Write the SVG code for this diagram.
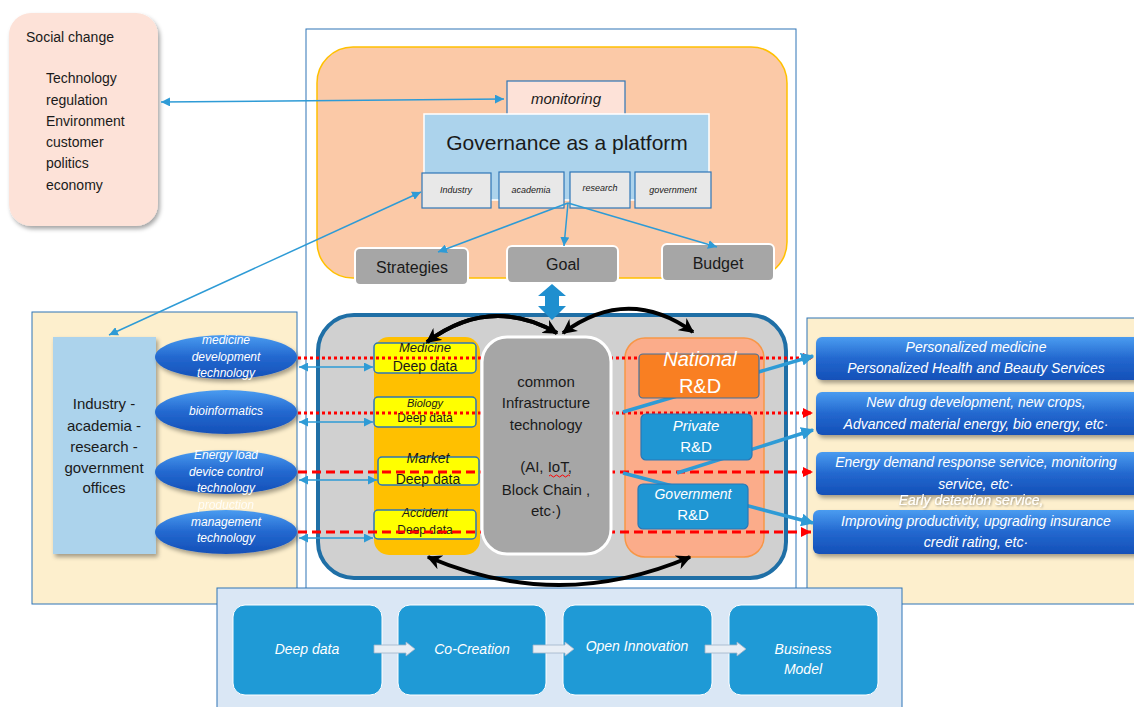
<svg xmlns="http://www.w3.org/2000/svg" width="1134" height="707" viewBox="0 0 1134 707">
<defs>
<style>
text{font-family:"Liberation Sans",Arial,sans-serif;dominant-baseline:central;text-anchor:middle}
.blk{fill:#1a1a1a}
.wht{fill:#fff;font-style:italic}
.it{font-style:italic}
.thin{stroke:#2e9bd6;stroke-width:1.5;fill:none}
.thick{stroke:#2e9bd6;stroke-width:3.5;fill:none}
.rdot{stroke:#ff0000;stroke-width:3;stroke-dasharray:3 3;fill:none}
.rdash{stroke:#ff0000;stroke-width:3;stroke-dasharray:9 5;fill:none}
.curve{stroke:#000;stroke-width:4;fill:none}
.ddbox{fill:#ffff00;stroke:#2e75b6;stroke-width:1.5}
.gbox{fill:#e8e8e8;stroke:#2e75b6;stroke-width:1.2}
.grey{fill:#a6a6a6;stroke:#fff;stroke-width:2}
.bbox{fill:#1f9ad6;stroke:#fff;stroke-width:1}
</style>
<linearGradient id="gblue" x1="0" y1="0" x2="0" y2="1">
<stop offset="0" stop-color="#4a9cf0"/>
<stop offset="0.5" stop-color="#2368cf"/>
<stop offset="1" stop-color="#1450b8"/>
</linearGradient>
<filter id="sh" x="-10%" y="-10%" width="130%" height="130%">
<feDropShadow dx="2" dy="3" stdDeviation="2" flood-color="#000" flood-opacity="0.35"/>
</filter>
<filter id="tsh" x="-10%" y="-30%" width="120%" height="160%">
<feDropShadow dx="1" dy="1" stdDeviation="1" flood-color="#000" flood-opacity="0.4"/>
</filter>
<marker id="ab" viewBox="0 0 10 10" refX="10" refY="5" markerWidth="9" markerHeight="9" markerUnits="userSpaceOnUse" orient="auto-start-reverse">
<path d="M0 0 L10 5 L0 10 z" fill="#2e9bd6"/>
</marker>
<marker id="abt" viewBox="0 0 10 10" refX="9" refY="5" markerWidth="13" markerHeight="13" markerUnits="userSpaceOnUse" orient="auto">
<path d="M0 0 L10 5 L0 10 z" fill="#2e9bd6"/>
</marker>
<marker id="ar" viewBox="0 0 10 10" refX="10" refY="5" markerWidth="10" markerHeight="10" markerUnits="userSpaceOnUse" orient="auto">
<path d="M0 0 L10 5 L0 10 z" fill="#ff0000"/>
</marker>
<marker id="ak" viewBox="0 0 10 10" refX="9" refY="5" markerWidth="15" markerHeight="15" markerUnits="userSpaceOnUse" orient="auto-start-reverse">
<path d="M0 0 L10 5 L0 10 L3 5 z" fill="#000"/>
</marker>
</defs>

<rect width="1134" height="707" fill="#fff"/>

<!-- outer white frame -->
<rect x="306" y="29" width="490" height="562" fill="#fff" stroke="#2e75b6" stroke-width="1"/>

<!-- side panels -->
<rect id="left-panel" x="32" y="312" width="265" height="292" fill="#fdefcd" stroke="#2e75b6" stroke-width="1"/>
<rect id="right-panel" x="807" y="318" width="340" height="286" fill="#fdefcd" stroke="#2e75b6" stroke-width="1"/>

<!-- Social change -->
<g id="social-change">
<rect x="9" y="13" width="149" height="213" rx="22" fill="#fde2d8" filter="url(#sh)"/>
<text x="70" y="37" class="blk" font-size="14">Social change</text>
<g class="blk" font-size="14" style="text-anchor:start">
<text x="46" y="78" style="text-anchor:start">Technology</text>
<text x="46" y="100" style="text-anchor:start">regulation</text>
<text x="46" y="121" style="text-anchor:start">Environment</text>
<text x="46" y="142" style="text-anchor:start">customer</text>
<text x="46" y="163" style="text-anchor:start">politics</text>
<text x="46" y="185" style="text-anchor:start">economy</text>
</g>
</g>

<!-- governance panel -->
<g id="governance-panel">
<rect x="317" y="47" width="470" height="231" rx="36" fill="#fbc9a7" stroke="#ffc000" stroke-width="1.5"/>
</g>
<g id="monitoring">
<rect x="507" y="81" width="118" height="36" fill="#fde2d8" stroke="#2e75b6" stroke-width="1.2"/>
<text x="566" y="98" class="blk it" font-size="15">monitoring</text>
</g>
<g id="governance">
<rect x="424" y="114" width="285" height="86" fill="#acd3ec" stroke="#fff" stroke-width="1.5"/>
<text x="567" y="142" class="blk" font-size="21">Governance as a platform</text>
</g>
<g id="industry-small"><rect x="422" y="173" width="69" height="35" class="gbox"/><text x="456" y="190" class="blk it" font-size="9">Industry</text></g>
<g id="academia-small"><rect x="499" y="172" width="65" height="36" class="gbox"/><text x="531" y="190" class="blk it" font-size="9">academia</text></g>
<g id="research-small"><rect x="570" y="172" width="60" height="36" class="gbox"/><text x="600" y="188" class="blk it" font-size="9">research</text></g>
<g id="government-small"><rect x="635" y="172" width="76" height="36" class="gbox"/><text x="673" y="190" class="blk it" font-size="9">government</text></g>

<g id="strategies"><rect x="355" y="248" width="113" height="37" rx="5" class="grey"/><text x="412" y="267" class="blk" font-size="16">Strategies</text></g>
<g id="goal"><rect x="507" y="246" width="111" height="37" rx="5" class="grey"/><text x="563" y="264" class="blk" font-size="16">Goal</text></g>
<g id="budget"><rect x="662" y="244" width="112" height="37" rx="5" class="grey"/><text x="718" y="263" class="blk" font-size="16">Budget</text></g>

<!-- central panel -->
<g id="center-panel">
<rect x="318" y="315" width="468" height="263" rx="36" fill="#d0d0d0" stroke="#1f6fa6" stroke-width="4"/>
<rect x="374" y="337" width="106" height="218" rx="15" fill="#ffc000"/>
<rect x="625" y="338" width="139" height="219" rx="20" fill="#fbac8a" stroke="#f79646" stroke-width="1.5"/>
</g>

<g id="medicine-dd"><rect x="374" y="343" width="102" height="30" rx="4" class="ddbox"/><text x="425" y="347" class="blk it" font-size="13">Medicine</text><text x="425" y="366" class="blk" font-size="14">Deep data</text></g>
<g id="biology-dd"><rect x="374" y="397" width="102" height="30" rx="4" class="ddbox"/><text x="425" y="403" class="blk it" font-size="11">Biology</text><text x="425" y="418" class="blk" font-size="12">Deep data</text></g>
<g id="market-dd"><rect x="378" y="457" width="101" height="28" rx="4" class="ddbox"/><text x="428" y="458" class="blk it" font-size="14">Market</text><text x="428" y="479" class="blk" font-size="14">Deep data</text></g>
<g id="accident-dd"><rect x="374" y="510" width="102" height="29" rx="4" class="ddbox"/><text x="425" y="513" class="blk it" font-size="12">Accident</text><text x="425" y="530" class="blk" font-size="12">Deep data</text></g>

<!-- left side -->
<g id="iagr">
<rect x="53" y="337" width="103" height="217" fill="#acd3ec" filter="url(#sh)"/>
<g class="blk" font-size="15">
<text x="104" y="403">Industry -</text>
<text x="104" y="425">academia -</text>
<text x="104" y="446">research -</text>
<text x="104" y="467">government</text>
<text x="104" y="487">offices</text>
</g>
</g>
<g id="ell-medicine"><ellipse cx="226" cy="357" rx="71" ry="22" fill="url(#gblue)" filter="url(#sh)"/><text x="226" y="340" class="wht" font-size="12">medicine</text><text x="226" y="357" class="wht" font-size="12">development</text><text x="226" y="373" class="wht" font-size="12">technology</text></g>
<g id="ell-bio"><ellipse cx="226" cy="412" rx="71" ry="22" fill="url(#gblue)" filter="url(#sh)"/><text x="226" y="411" class="wht" font-size="12">bioinformatics</text></g>
<g id="ell-energy"><ellipse cx="226" cy="472" rx="71" ry="22" fill="url(#gblue)" filter="url(#sh)"/><text x="226" y="455" class="wht" font-size="12">Energy load</text><text x="226" y="472" class="wht" font-size="12">device control</text><text x="226" y="488" class="wht" font-size="12">technology</text></g>
<g id="ell-production"><ellipse cx="226" cy="532" rx="71" ry="22" fill="url(#gblue)" filter="url(#sh)"/><text x="226" y="505" class="wht" font-size="12" opacity="0.85">production</text><text x="226" y="522" class="wht" font-size="12">management</text><text x="226" y="538" class="wht" font-size="12">technology</text></g>

<!-- right boxes -->
<g id="out-1"><rect x="816" y="337" width="330" height="43" rx="6" fill="url(#gblue)" filter="url(#sh)"/><text x="976" y="347" class="wht" font-size="14">Personalized medicine</text><text x="976" y="368" class="wht" font-size="14">Personalized Health and Beauty Services</text></g>
<g id="out-2"><rect x="816" y="392" width="330" height="43" rx="6" fill="url(#gblue)" filter="url(#sh)"/><text x="976" y="402" class="wht" font-size="14">New drug development, new crops,</text><text x="976" y="424" class="wht" font-size="14">Advanced material energy, bio energy, etc·</text></g>
<g id="out-3"><rect x="816" y="452" width="330" height="43" rx="6" fill="url(#gblue)" filter="url(#sh)"/><text x="976" y="462" class="wht" font-size="14">Energy demand response service, monitoring</text><text x="976" y="484" class="wht" font-size="14">service, etc·</text></g>
<g id="out-4"><rect x="813" y="510" width="333" height="44" rx="6" fill="url(#gblue)" filter="url(#sh)"/><text x="971" y="500" class="wht" font-size="14" filter="url(#tsh)">Early detection service,</text><text x="976" y="521" class="wht" font-size="14">Improving productivity, upgrading insurance</text><text x="976" y="542" class="wht" font-size="14">credit rating, etc·</text></g>

<!-- connectors -->
<g id="connectors">
<line x1="161" y1="102" x2="504" y2="99" class="thin" marker-start="url(#ab)" marker-end="url(#ab)"/>
<line x1="109" y1="335" x2="421" y2="192" class="thin" marker-start="url(#ab)" marker-end="url(#ab)"/>
<line x1="568" y1="203" x2="438" y2="252" class="thin" marker-end="url(#ab)"/>
<line x1="568" y1="203" x2="564" y2="246" class="thin" marker-end="url(#ab)"/>
<line x1="568" y1="203" x2="717" y2="247" class="thin" marker-end="url(#ab)"/>
<polygon points="552,284 566,296 559,296 559,306 566,306 552,320 538,306 545,306 545,296 538,296" fill="#1f8fcf"/>
<path d="M557 333 Q490 295 427 342" class="curve" marker-end="url(#ak)"/>
<path d="M557 333 Q490 295 427 342" class="curve" marker-start="url(#ak)"/>
<path d="M563 333 Q628 285 693 332" class="curve" marker-start="url(#ak)" marker-end="url(#ak)"/>
<path d="M428 557 Q559 613 690 557" class="curve" marker-start="url(#ak)" marker-end="url(#ak)"/>
<line x1="299" y1="367" x2="373" y2="367" class="thin" marker-start="url(#ab)" marker-end="url(#ab)"/>
<line x1="299" y1="422" x2="373" y2="422" class="thin" marker-start="url(#ab)" marker-end="url(#ab)"/>
<line x1="299" y1="480" x2="377" y2="480" class="thin" marker-start="url(#ab)" marker-end="url(#ab)"/>
<line x1="299" y1="538" x2="373" y2="538" class="thin" marker-start="url(#ab)" marker-end="url(#ab)"/>
<line x1="298" y1="358" x2="813" y2="358" class="rdot" marker-end="url(#ar)"/>
<line x1="298" y1="413" x2="813" y2="413" class="rdot" marker-end="url(#ar)"/>
<line x1="298" y1="472" x2="813" y2="472" class="rdash" marker-end="url(#ar)"/>
<line x1="298" y1="532" x2="811" y2="532" class="rdash" marker-end="url(#ar)"/>
<line x1="623" y1="412" x2="813" y2="356" class="thick" marker-end="url(#abt)"/>
<line x1="677" y1="473" x2="813" y2="430" class="thick" marker-end="url(#abt)"/>
<line x1="623" y1="473" x2="813" y2="523" class="thick" marker-end="url(#abt)"/>
</g>

<!-- boxes drawn over lines -->
<g id="infra">
<rect x="482" y="337" width="129" height="217" rx="25" fill="#a6a6a6" stroke="#fff" stroke-width="3"/>
<g class="blk" font-size="15">
<text x="546" y="381">common</text>
<text x="546" y="402">Infrastructure</text>
<text x="546" y="424">technology</text>
<text x="546" y="466">(AI, IoT,</text>
<text x="546" y="489">Block Chain ,</text>
<text x="546" y="510">etc·)</text>
</g>
<path d="M549 476 q1.5 -2 3 0 t3 0 t3 0 t3 0 t3 0 t3 0 t3 0" stroke="#ff0000" stroke-width="1" fill="none"/>
</g>
<g id="national-rd"><rect x="639" y="354" width="120" height="44" rx="4" fill="#f97f22" stroke="#41719c" stroke-width="1.2"/><text x="700" y="359" class="wht" font-size="20">National</text><text x="700" y="386" class="wht" font-size="20" style="font-style:normal">R&amp;D</text></g>
<g id="private-rd"><rect x="641" y="414" width="111" height="46" rx="5" fill="#1f96d3" stroke="#2a77b5" stroke-width="1.2"/><text x="696" y="425" class="wht" font-size="15">Private</text><text x="696" y="446" class="wht" font-size="15" style="font-style:normal">R&amp;D</text></g>
<g id="government-rd"><rect x="638" y="484" width="110" height="45" rx="5" fill="#1f96d3" stroke="#2a77b5" stroke-width="1.2"/><text x="693" y="494" class="wht" font-size="14">Government</text><text x="693" y="514" class="wht" font-size="15" style="font-style:normal">R&amp;D</text></g>

<!-- bottom process -->
<rect x="217" y="588" width="685" height="125" fill="#dae7f5" stroke="#2e75b6" stroke-width="1"/>
<g id="b-deep"><rect x="233" y="605" width="149" height="90" rx="12" class="bbox"/><text x="307" y="649" class="wht" font-size="14">Deep data</text></g>
<g id="b-cocreation"><rect x="398" y="605" width="148" height="90" rx="12" class="bbox"/><text x="472" y="649" class="wht" font-size="14">Co-Creation</text></g>
<g id="b-open"><rect x="563" y="605" width="149" height="90" rx="12" class="bbox"/><text x="637" y="646" class="wht" font-size="14">Open Innovation</text></g>
<g id="b-business"><rect x="729" y="605" width="149" height="90" rx="12" class="bbox"/><text x="803" y="649" class="wht" font-size="14">Business</text><text x="803" y="669" class="wht" font-size="14">Model</text></g>
<g id="process-arrows" fill="#e8eef5" stroke="#9fb3c8" stroke-width="0.8">
<polygon points="374,645 406,645 406,642 415,649 406,656 406,653 374,653"/>
<polygon points="533,645 565,645 565,642 574,649 565,656 565,653 533,653"/>
<polygon points="705,645 737,645 737,642 746,649 737,656 737,653 705,653"/>
</g>
</svg>
